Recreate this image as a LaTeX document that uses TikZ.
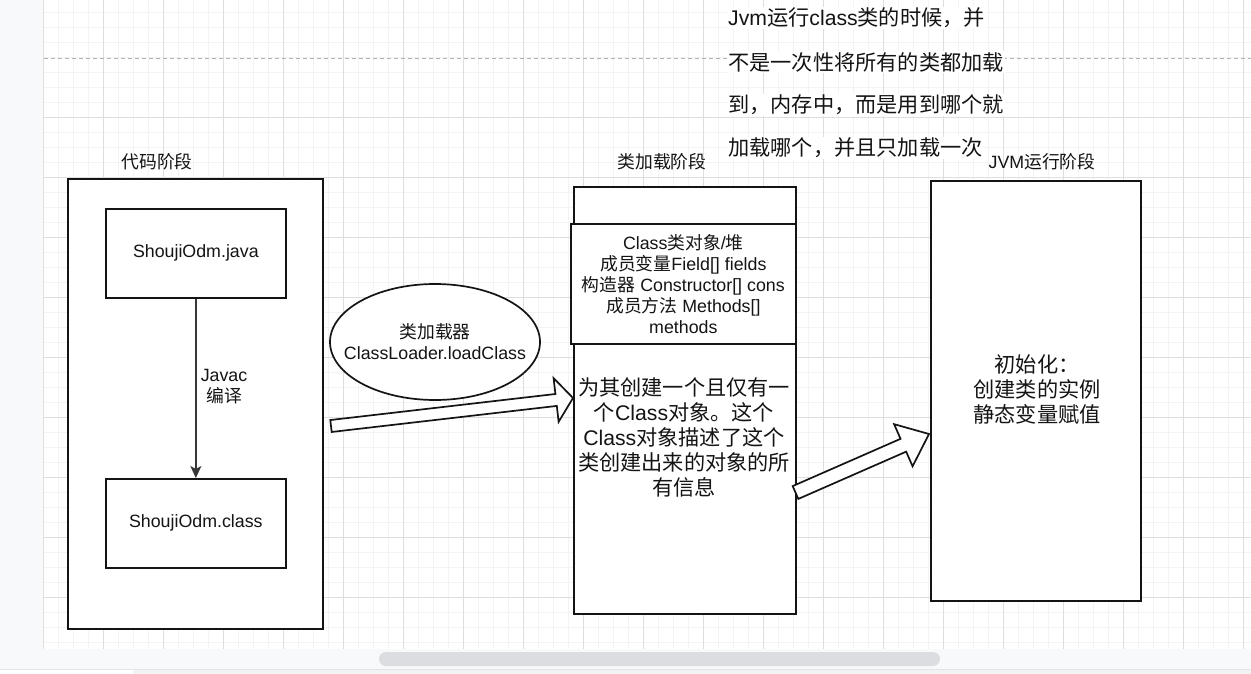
\documentclass[tikz,border=0pt]{standalone}
\usepackage{fontspec}
\setmainfont{Liberation Sans}
\newfontfamily\cjkf{Noto Sans CJK SC}
\usetikzlibrary{calc,arrows.meta,shapes.geometric}
\newcommand\zh[1]{{\cjkf #1}}
\definecolor{gridmin}{HTML}{F3F3F3}
\definecolor{gridmaj}{HTML}{DEDEDE}
\definecolor{panel}{HTML}{F8F9FA}
\definecolor{ink}{HTML}{141414}
\definecolor{thumb}{HTML}{DCDDE0}
\definecolor{edgeline}{HTML}{E2E4E7}
\tikzset{
  box/.style={draw=ink, line width=1.7pt, fill=white, anchor=north west, inner sep=0pt},
  txt/.style={font=\fontsize{17.8}{21}\selectfont, text=ink, align=center},
  bigtxt/.style={font=\fontsize{21.2}{25}\selectfont, text=ink, align=center},
  blockarrow/.style={draw=ink, line width=1.7pt, fill=white, line join=miter},
  flow/.style={draw=ink!85, line width=1.6pt, -{Stealth[length=12pt,width=11pt,inset=3pt]}},
}
\begin{document}
\begin{tikzpicture}[x=1pt,y=-1pt]
\useasboundingbox (0,0) rectangle (1251,674);
\fill[white] (0,0) rectangle (1251,649);
% grid
\foreach \x in {43,58,...,1251} \draw[gridmin, line width=0.8pt] (\x,0) -- (\x,649);
\foreach \y in {12,27,...,649} \draw[gridmin, line width=0.8pt] (43,\y) -- (1251,\y);
\foreach \x in {103,163,...,1251} \draw[gridmaj, line width=0.9pt] (\x,0) -- (\x,649);
\foreach \y in {117,177,...,649} \draw[gridmaj, line width=0.9pt] (43,\y) -- (1251,\y);
\draw[black!30, line width=0.9pt, dash pattern=on 4pt off 3pt] (44,58) -- (1251,58);
% left panel and bottom bar
\fill[panel] (0,0) rectangle (43,649);
\draw[black!12, line width=1pt] (43.5,0) -- (43.5,649);
\fill[panel] (0,649) rectangle (1251,669);
\draw[edgeline, line width=1pt] (0,669.5) -- (1251,669.5);
\fill[white] (0,670) rectangle (133,674);
\fill[black!5] (133,670) rectangle (1251,674);
\fill[thumb, rounded corners=7pt] (379,652) rectangle (940,666);

% stage labels
\node[txt] (lcode) at (157,162) {\zh{代码阶段}};
\node[txt] (lload) at (662,162) {\zh{类加载阶段}};
\node[txt] (ljvm) at (1042,162) {JVM\zh{运行阶段}};

% code stage
\node[box, minimum width=255pt, minimum height=450pt] (code) at (67,178) {};
\node[box, txt, minimum width=180pt, minimum height=89pt] (java) at (105,208) {ShoujiOdm.java};
\node[box, txt, minimum width=180pt, minimum height=89pt] (cls) at (105,478) {ShoujiOdm.class};
\draw[flow] (java) -- (cls);
\node[txt] (javac) at (224,387) {Javac\\\zh{编译}};

% class loader
\node[draw=ink, line width=1.7pt, fill=white, ellipse, minimum width=210pt, minimum height=116pt, inner sep=0pt] (loader) at (435,342) {};
\node[txt] (loadertxt) at (loader.center) {\zh{类加载器}\\ClassLoader.loadClass};

% class loading stage
\node[box, minimum width=222pt, minimum height=427pt] (load) at (573,186) {};
\node[box, txt, minimum width=225pt, minimum height=120pt] (heap) at (570,223) {Class\zh{类对象}/\zh{堆}\\\zh{成员变量}Field[] fields\\\zh{构造器} Constructor[] cons\\\zh{成员方法} Methods[]\\methods};
\node[bigtxt] (desc) at (684,437) {\zh{为其创建一个且仅有一}\\\zh{个}Class\zh{对象。这个}\\Class\zh{对象描述了这个}\\\zh{类创建出来的对象的所}\\\zh{有信息}};

% JVM stage
\node[box, minimum width=210pt, minimum height=420pt] (jvm) at (930,180) {};
\node[bigtxt] (init) at (1037,389) {\zh{初始化：}\\\zh{创建类的实例}\\\zh{静态变量赋值}};

% block arrows
\coordinate (a1t) at (331,426);
\coordinate (a1h) at (573,398);
\coordinate (a1b) at ($(a1h)!17pt!(a1t)$);
\draw[blockarrow] ($(a1t)!6pt!90:(a1h)$) -- ($(a1b)!6pt!90:(a1h)$) -- ($(a1b)!22pt!90:(a1h)$) -- (a1h) -- ($(a1b)!22pt!-90:(a1h)$) -- ($(a1b)!6pt!-90:(a1h)$) -- ($(a1t)!6pt!-90:(a1h)$) -- cycle;
\coordinate (a2t) at (795.5,492.5);
\coordinate (a2h) at (929,434);
\coordinate (a2b) at ($(a2h)!28pt!(a2t)$);
\draw[blockarrow] ($(a2t)!7pt!90:(a2h)$) -- ($(a2b)!7pt!90:(a2h)$) -- ($(a2b)!23pt!90:(a2h)$) -- (a2h) -- ($(a2b)!23pt!-90:(a2h)$) -- ($(a2b)!7pt!-90:(a2h)$) -- ($(a2t)!7pt!-90:(a2h)$) -- cycle;

% note text
\node[bigtxt, anchor=west, fill=white, inner sep=1pt] (n1) at (727,18) {Jvm\zh{运行}class\zh{类的时候，并}};
\node[bigtxt, anchor=west, fill=white, inner sep=1pt] (n2) at (727,62) {\zh{不是一次性将所有的类都加载}};
\node[bigtxt, anchor=west, fill=white, inner sep=1pt] (n3) at (727,105) {\zh{到，内存中，而是用到哪个就}};
\node[bigtxt, anchor=west, fill=white, inner sep=1pt] (n4) at (727,148) {\zh{加载哪个，并且只加载一次}};
\end{tikzpicture}
\end{document}
